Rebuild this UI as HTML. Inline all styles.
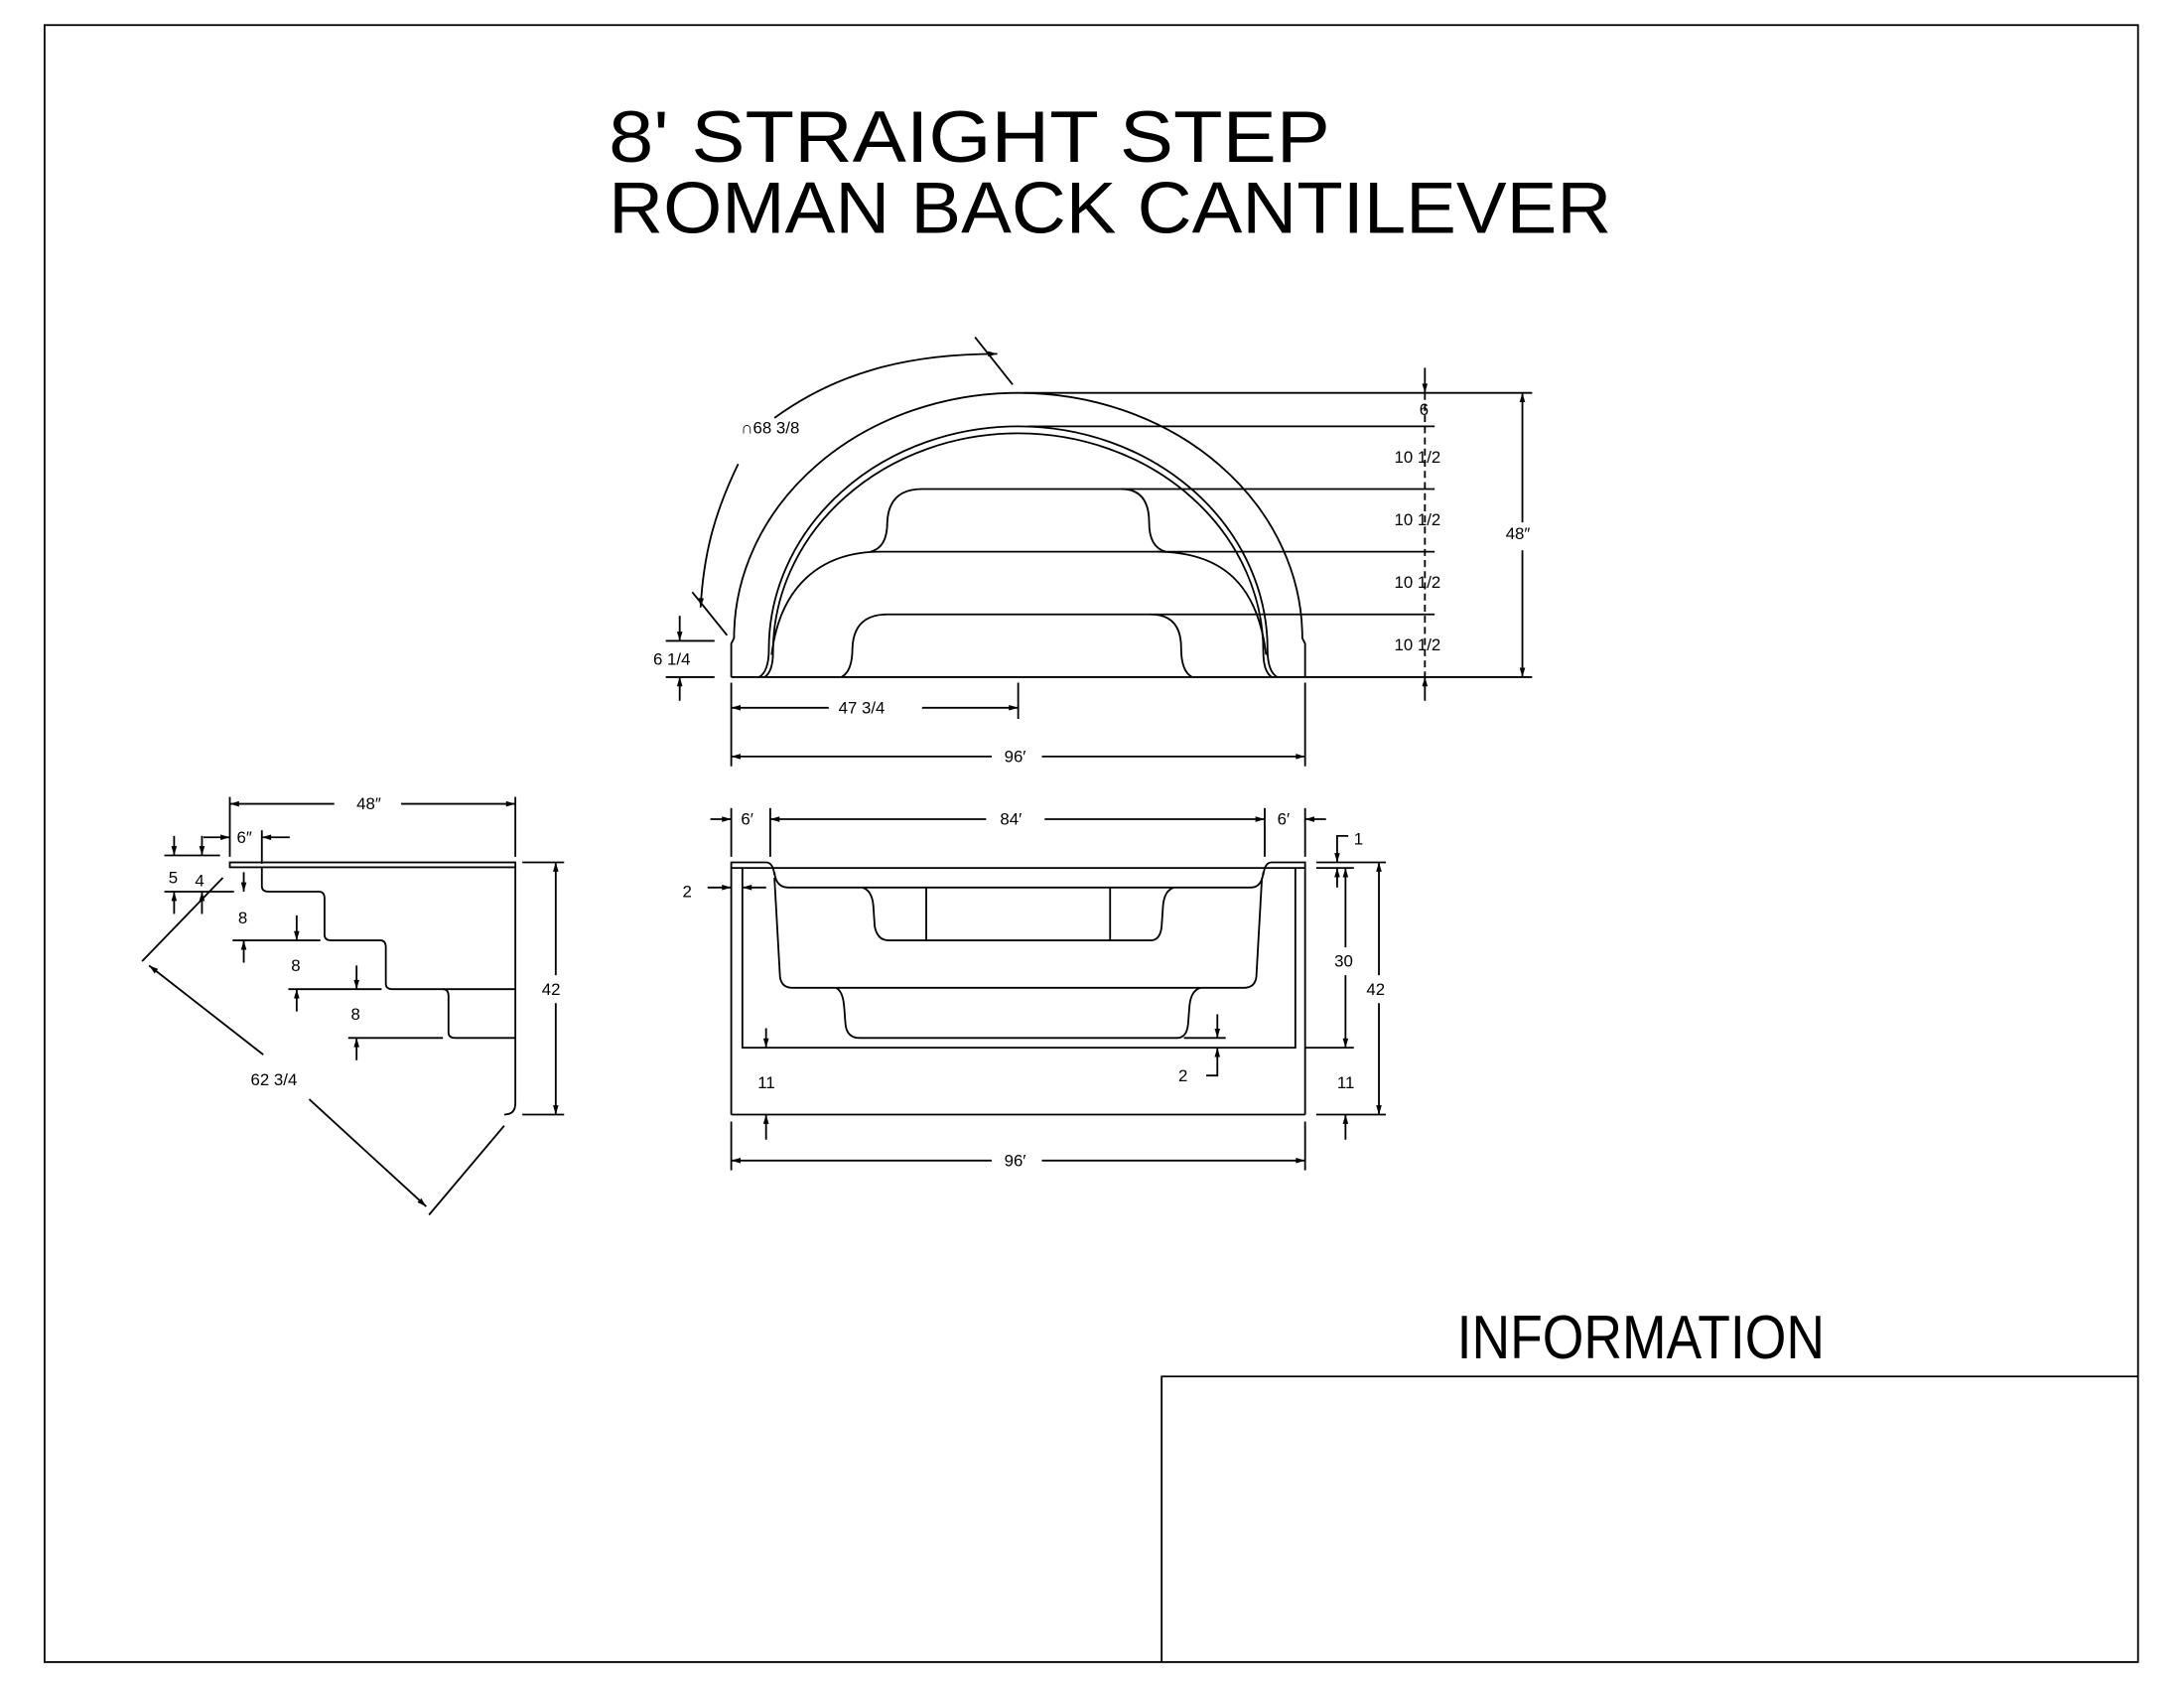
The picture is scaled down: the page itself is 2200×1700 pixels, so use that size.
<!DOCTYPE html>
<html><head><meta charset="utf-8"><style>
html,body{margin:0;padding:0;background:#fff;}
svg{display:block;}
text{font-family:"Liberation Sans",sans-serif;fill:#000;}
.d{font-size:12px;}
</style></head><body>
<svg width="2200" height="1700" viewBox="0 0 1568 1211.6" preserveAspectRatio="none" xmlns="http://www.w3.org/2000/svg">
<defs>
<marker id="a" viewBox="0 0 10 6" refX="10" refY="3" markerWidth="8" markerHeight="4" orient="auto-start-reverse" markerUnits="userSpaceOnUse"><path d="M0,0 L10,3 L0,6 z" fill="#000"/></marker>
</defs>
<g fill="none" stroke="#000" stroke-width="1.3">
<rect x="32" y="18" width="1503" height="1175"/>
<polyline points="834,1193 834,988 1535,988"/>

<line x1="525" y1="486" x2="1100" y2="486"/>
<path d="M525,486 L525,462 L527,458 A204,176 0 0 1 935,458 L937,462 L937,486"/>
<path d="M545,486 Q552,482 552,466 A179,160 0 0 1 910,466 Q910,482 917,486"/>
<path d="M549,486 Q555,482 555,468 A176,157 0 0 1 907,468 Q907,482 913,486"/>
<path d="M554,470 C560,420 590,396 632,396 L1030,396"/>
<path d="M830,396 C878,396 903,420 909,470"/>
<path d="M625,396 Q637,393 637,375 Q638,351 662,351 L1030,351"/>
<path d="M805,351 Q825,351 825,375 Q825,393 837,396"/>
<path d="M604,486 Q612,482 612,465 Q613,441 637,441 L1030,441"/>
<path d="M826,441 Q848,441 848,465 Q848,482 856,486"/>
<line x1="735" y1="282" x2="1100" y2="282"/>
<line x1="738" y1="306" x2="1030" y2="306"/>
<line x1="478" y1="460" x2="513" y2="460"/>
<line x1="478" y1="486" x2="513" y2="486"/>
<line x1="488" y1="442" x2="488" y2="460" marker-end="url(#a)"/>
<line x1="488" y1="503" x2="488" y2="486" marker-end="url(#a)"/>
<line x1="1023" y1="264" x2="1023" y2="282" marker-end="url(#a)"/>
<line x1="1023" y1="282" x2="1023" y2="486" stroke-dasharray="5,3"/>
<line x1="1023" y1="503" x2="1023" y2="486" marker-end="url(#a)"/>
<line x1="1093" y1="375" x2="1093" y2="282" marker-end="url(#a)"/>
<line x1="1093" y1="395" x2="1093" y2="486" marker-end="url(#a)"/>
<line x1="525" y1="490" x2="525" y2="550"/>
<line x1="937" y1="490" x2="937" y2="550"/>
<line x1="731" y1="490" x2="731" y2="516"/>
<line x1="595" y1="508" x2="525" y2="508" marker-end="url(#a)"/>
<line x1="662" y1="508" x2="731" y2="508" marker-end="url(#a)"/>
<line x1="712" y1="543" x2="525" y2="543" marker-end="url(#a)"/>
<line x1="748" y1="543" x2="937" y2="543" marker-end="url(#a)"/>
<line x1="497" y1="425" x2="522" y2="456"/>
<line x1="700" y1="242" x2="727" y2="276"/>
<path d="M530,333 C512,370 505,400 503,436" marker-end="url(#a)"/>
<path d="M556,300 C600,268 650,254 716,254" marker-end="url(#a)"/>

<rect x="165" y="619" width="205" height="3.5"/>
<path d="M370,622 L370,792 Q370,800 362,800"/>
<path d="M188,622 L188,636 Q188,640 193,640 L229,640 Q233,640 233,645 L233,671 Q233,675 238,675 L273,675 Q277,675 277,680 L277,706 Q277,710 282,710 L370,710"/>
<path d="M318,710 Q322,710 322,715 L322,741 Q322,745 327,745 L370,745"/>
<line x1="118" y1="614" x2="158" y2="614"/>
<line x1="118" y1="640" x2="168" y2="640"/>
<line x1="167" y1="675" x2="230" y2="675"/>
<line x1="207" y1="710" x2="274" y2="710"/>
<line x1="250" y1="745" x2="318" y2="745"/>
<line x1="125" y1="600" x2="125" y2="614" marker-end="url(#a)"/>
<line x1="125" y1="656" x2="125" y2="640" marker-end="url(#a)"/>
<line x1="145" y1="600" x2="145" y2="614" marker-end="url(#a)"/>
<line x1="145" y1="656" x2="145" y2="640" marker-end="url(#a)"/>
<line x1="175" y1="626" x2="175" y2="640" marker-end="url(#a)"/>
<line x1="175" y1="691" x2="175" y2="675" marker-end="url(#a)"/>
<line x1="213" y1="657" x2="213" y2="675" marker-end="url(#a)"/>
<line x1="213" y1="726" x2="213" y2="710" marker-end="url(#a)"/>
<line x1="256" y1="693" x2="256" y2="710" marker-end="url(#a)"/>
<line x1="256" y1="761" x2="256" y2="745" marker-end="url(#a)"/>
<line x1="165" y1="572" x2="165" y2="615"/>
<line x1="370" y1="572" x2="370" y2="615"/>
<line x1="240" y1="577" x2="165" y2="577" marker-end="url(#a)"/>
<line x1="288" y1="577" x2="370" y2="577" marker-end="url(#a)"/>
<line x1="188" y1="596" x2="188" y2="620"/>
<line x1="146" y1="601" x2="165" y2="601" marker-end="url(#a)"/>
<line x1="208" y1="601" x2="188" y2="601" marker-end="url(#a)"/>
<line x1="375" y1="619" x2="405" y2="619"/>
<line x1="375" y1="800" x2="405" y2="800"/>
<line x1="399" y1="700" x2="399" y2="619" marker-end="url(#a)"/>
<line x1="399" y1="720" x2="399" y2="800" marker-end="url(#a)"/>
<line x1="102" y1="690" x2="160" y2="630"/>
<line x1="308" y1="872" x2="362" y2="808"/>
<line x1="189" y1="757" x2="107" y2="693" marker-end="url(#a)"/>
<line x1="222" y1="789" x2="306" y2="866" marker-end="url(#a)"/>

<path d="M525,800 L525,619 L550,619 Q555,619 556,628"/>
<path d="M937,800 L937,619 L913,619 Q908,619 907,628"/>
<line x1="525" y1="800" x2="937" y2="800"/>
<line x1="525" y1="623" x2="937" y2="623"/>
<path d="M533,623 L533,752 L930,752 L930,623"/>
<path d="M556,626 Q557,637 566,637 L898,637 Q906,637 907,626"/>
<path d="M556,630 L560,701 Q561,709 569,709 L893,709 Q901,709 902,701 L906,630"/>
<path d="M619,637 Q626,639 627,650 L628,665 Q630,675 638,675 L826,675 Q833,675 834,665 L835,650 Q836,639 843,637"/>
<line x1="665" y1="637" x2="665" y2="675"/>
<line x1="797" y1="637" x2="797" y2="675"/>
<path d="M600,709 Q605,711 606,722 L607,735 Q608,745 617,745 L845,745 Q852,745 853,735 L854,722 Q855,711 862,709"/>
<line x1="525" y1="580" x2="525" y2="615"/>
<line x1="553" y1="580" x2="553" y2="615"/>
<line x1="908" y1="580" x2="908" y2="615"/>
<line x1="937" y1="580" x2="937" y2="615"/>
<line x1="510" y1="588" x2="525" y2="588" marker-end="url(#a)"/>
<line x1="708" y1="588" x2="553" y2="588" marker-end="url(#a)"/>
<line x1="750" y1="588" x2="908" y2="588" marker-end="url(#a)"/>
<line x1="952" y1="588" x2="937" y2="588" marker-end="url(#a)"/>
<line x1="508" y1="637" x2="525" y2="637" marker-end="url(#a)"/>
<line x1="550" y1="637" x2="533" y2="637" marker-end="url(#a)"/>
<line x1="945" y1="619" x2="995" y2="619"/>
<line x1="945" y1="623" x2="972" y2="623"/>
<line x1="937" y1="752" x2="972" y2="752"/>
<line x1="945" y1="800" x2="995" y2="800"/>
<polyline points="968,600 960,600 960,619" marker-end="url(#a)"/>
<line x1="960" y1="637" x2="960" y2="623" marker-end="url(#a)"/>
<line x1="966" y1="680" x2="966" y2="623" marker-end="url(#a)"/>
<line x1="966" y1="700" x2="966" y2="752" marker-end="url(#a)"/>
<line x1="966" y1="818" x2="966" y2="800" marker-end="url(#a)"/>
<line x1="990" y1="700" x2="990" y2="619" marker-end="url(#a)"/>
<line x1="990" y1="720" x2="990" y2="800" marker-end="url(#a)"/>
<line x1="550" y1="738" x2="550" y2="752" marker-end="url(#a)"/>
<line x1="550" y1="818" x2="550" y2="800" marker-end="url(#a)"/>
<line x1="850" y1="745" x2="880" y2="745"/>
<line x1="874" y1="728" x2="874" y2="745" marker-end="url(#a)"/>
<polyline points="866,772 874,772 874,752" marker-end="url(#a)"/>
<line x1="525" y1="805" x2="525" y2="840"/>
<line x1="937" y1="805" x2="937" y2="840"/>
<line x1="712" y1="833" x2="525" y2="833" marker-end="url(#a)"/>
<line x1="748" y1="833" x2="937" y2="833" marker-end="url(#a)"/>
</g>

<text x="437" y="116" font-size="52" textLength="518" lengthAdjust="spacingAndGlyphs">8' STRAIGHT STEP</text>
<text x="437" y="167" font-size="52" textLength="720" lengthAdjust="spacingAndGlyphs">ROMAN BACK CANTILEVER</text>
<text x="1046" y="975" font-size="44" textLength="264" lengthAdjust="spacingAndGlyphs">INFORMATION</text>

<text class="d" x="532" y="311">∩68 3/8</text>
<text class="d" x="469" y="477">6 1/4</text>
<text class="d" x="1019" y="298">6</text>
<text class="d" x="1001" y="332">10 1/2</text>
<text class="d" x="1001" y="377">10 1/2</text>
<text class="d" x="1001" y="422">10 1/2</text>
<text class="d" x="1001" y="467">10 1/2</text>
<text class="d" x="1081" y="387">48″</text>
<text class="d" x="602" y="512">47 3/4</text>
<text class="d" x="721" y="547">96′</text>
<text class="d" x="256" y="581">48″</text>
<text class="d" x="170" y="605">6″</text>
<text class="d" x="121" y="634">5</text>
<text class="d" x="140" y="636">4</text>
<text class="d" x="171" y="663">8</text>
<text class="d" x="209" y="697">8</text>
<text class="d" x="252" y="732">8</text>
<text class="d" x="389" y="714">42</text>
<text class="d" x="180" y="779">62 3/4</text>
<text class="d" x="532" y="592">6′</text>
<text class="d" x="718" y="592">84′</text>
<text class="d" x="917" y="592">6′</text>
<text class="d" x="490" y="644">2</text>
<text class="d" x="972" y="606">1</text>
<text class="d" x="958" y="694">30</text>
<text class="d" x="981" y="714">42</text>
<text class="d" x="544" y="781">11</text>
<text class="d" x="960" y="781">11</text>
<text class="d" x="846" y="776">2</text>
<text class="d" x="721" y="837">96′</text>
</svg>
</body></html>
